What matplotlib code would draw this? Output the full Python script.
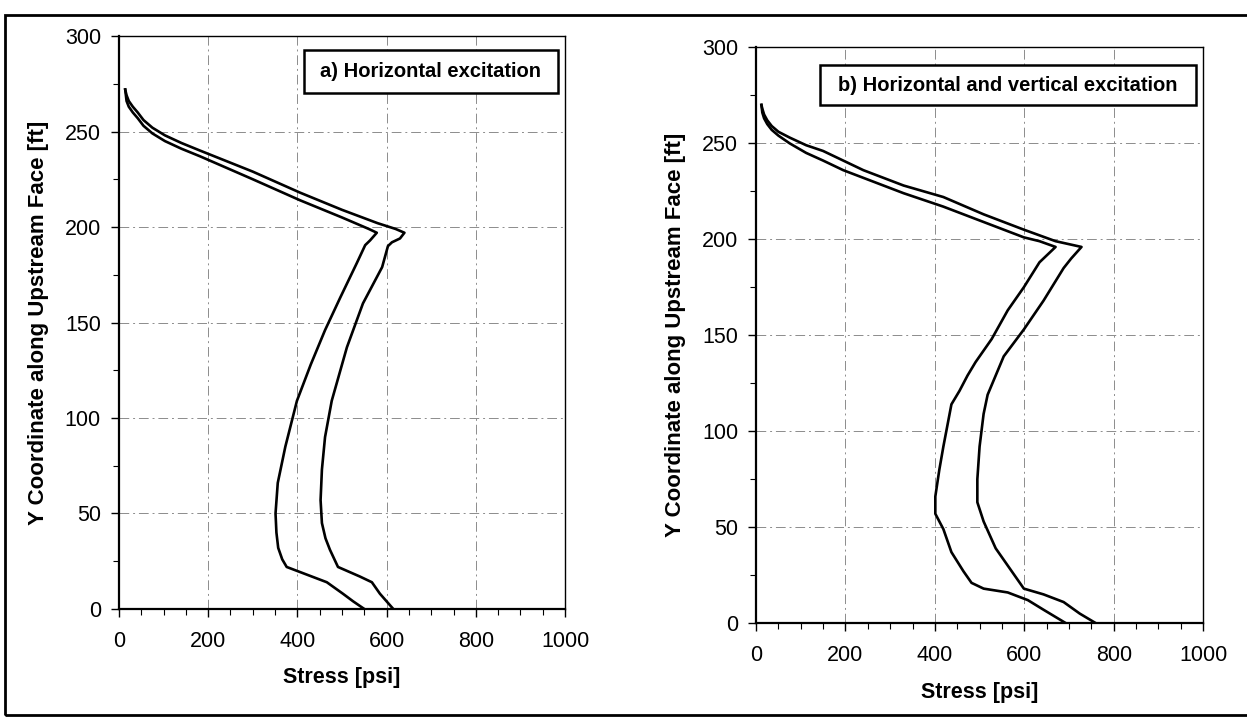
"""Dam upstream face stress profiles: horizontal vs horizontal+vertical excitation"""

import matplotlib.pyplot as plt
from matplotlib.patches import Rectangle
import numpy as np

plt.rcParams['font.family'] = ['Liberation Sans', 'DejaVu Sans']

# panel a) horizontal excitation
a_inner_y = [272, 266, 263, 260, 257, 253, 249, 245, 241, 237, 225, 214, 205, 199, 197, 193, 190.5,
             181, 163, 146, 128, 109, 85, 66, 50, 40, 32, 26, 22, 18, 14, 8, 4, 0]
a_inner_x = [14, 17, 22, 31, 42, 55, 75, 103, 140, 182, 300, 406, 500, 560, 578, 563, 552,
             533, 496, 462, 430, 399, 373, 356, 351, 353, 357, 366, 376, 421, 466, 502, 525, 550]
a_outer_y = [272, 269, 266, 263, 260, 256, 252, 248, 244, 240, 229, 218, 209, 202, 199, 197, 194, 192,
             190, 179, 160, 137, 109, 90, 73, 57, 45, 37, 31, 22, 17, 14, 8, 4, 0]
a_outer_x = [14, 17, 22, 31, 42, 55, 75, 103, 140, 182, 300, 406, 500, 580, 620, 640, 630, 612,
             603, 590, 547, 511, 477, 462, 455, 452, 455, 463, 473, 491, 540, 567, 585, 600, 615]

# panel b) horizontal and vertical excitation
b_inner_y = [270, 266, 263, 260, 257, 254, 250, 245, 241, 236, 232, 224, 217, 209, 201, 199, 196,
             192, 188, 175, 163, 148, 136, 129, 121, 114, 92, 80, 66, 57, 49, 37, 27, 21, 18, 16,
             12, 7, 0]
b_inner_x = [12, 14, 18, 25, 35, 50, 75, 112, 150, 195, 240, 330, 419, 509, 599, 634, 670,
             652, 634, 599, 563, 527, 491, 473, 455, 437, 419, 410, 401, 401, 419, 437, 464, 482,
             509, 563, 608, 643, 693]
b_outer_y = [270, 268, 265, 262, 259, 256, 253, 249, 246, 241, 236, 228, 222, 213, 205, 199, 196,
             190, 185, 168, 153, 139, 129, 119, 109, 92, 75, 63, 53, 39, 27, 18, 15, 11, 5, 0]
b_outer_x = [12, 14, 18, 25, 35, 50, 75, 112, 150, 195, 240, 330, 419, 509, 599, 670, 728,
             705, 688, 643, 599, 554, 536, 518, 509, 500, 495, 495, 509, 536, 572, 599, 643, 688,
             724, 760]

titles = ["a) Horizontal excitation", "b) Horizontal and vertical excitation"]

fig = plt.figure(figsize=(12.47, 7.28), dpi=100)
ax_a = fig.add_axes([0.0954, 0.1635, 0.3577, 0.787])
ax_b = fig.add_axes([0.6063, 0.144, 0.3585, 0.791])

panels = [(ax_a, a_inner_x, a_inner_y, a_outer_x, a_outer_y, (0.414, 0.90, 0.570, 0.076)),
          (ax_b, b_inner_x, b_inner_y, b_outer_x, b_outer_y, (0.142, 0.899, 0.843, 0.071))]

for i, (ax, xi, yi, xo, yo, box) in enumerate(panels):
    ax.plot(xi, yi, color='black', lw=1.9)
    ax.plot(xo, yo, color='black', lw=1.9)
    ax.set_xlim(0, 1000)
    ax.set_ylim(0, 300)
    ax.set_xticks(np.arange(0, 1001, 200))
    ax.set_xticks(np.arange(0, 1001, 50), minor=True)
    ax.set_yticks(np.arange(0, 301, 50))
    ax.set_yticks(np.arange(0, 301, 25), minor=True)
    ax.tick_params(which='major', direction='out', length=6, width=1, labelsize=15.5)
    ax.tick_params(axis='x', which='major', pad=10)
    ax.tick_params(axis='y', which='major', pad=7)
    ax.tick_params(which='minor', direction='out', length=4, width=0.8)
    ax.grid(True, which='major', color='0.55', lw=0.7, dashes=(10, 4, 2, 4))
    for side in ['left', 'bottom']:
        ax.spines[side].set_linewidth(1.6)
    for side in ['top', 'right']:
        ax.spines[side].set_linewidth(1.0)
    ax.set_xlabel("Stress [psi]", fontsize=15.5, fontweight='bold', labelpad=11)
    ax.set_ylabel("Y Coordinate along Upstream Face [ft]", fontsize=16,
                  fontweight='bold', labelpad=11)
    # caption box inside the panel
    bx, by, bw, bh = box
    ax.add_patch(Rectangle((bx, by), bw, bh, transform=ax.transAxes,
                           facecolor='white', edgecolor='black', lw=1.8, zorder=5))
    ax.text(bx + bw / 2, by + bh / 2, titles[i], transform=ax.transAxes,
            ha='center', va='center', fontsize=14.5, fontweight='bold', zorder=6)

# outer frame of the scanned figure
fig.add_artist(Rectangle((0.004, 0.018), 1.1, 0.962, transform=fig.transFigure,
                         fill=False, edgecolor='black', lw=2))

plt.savefig("out.png", dpi=100)
